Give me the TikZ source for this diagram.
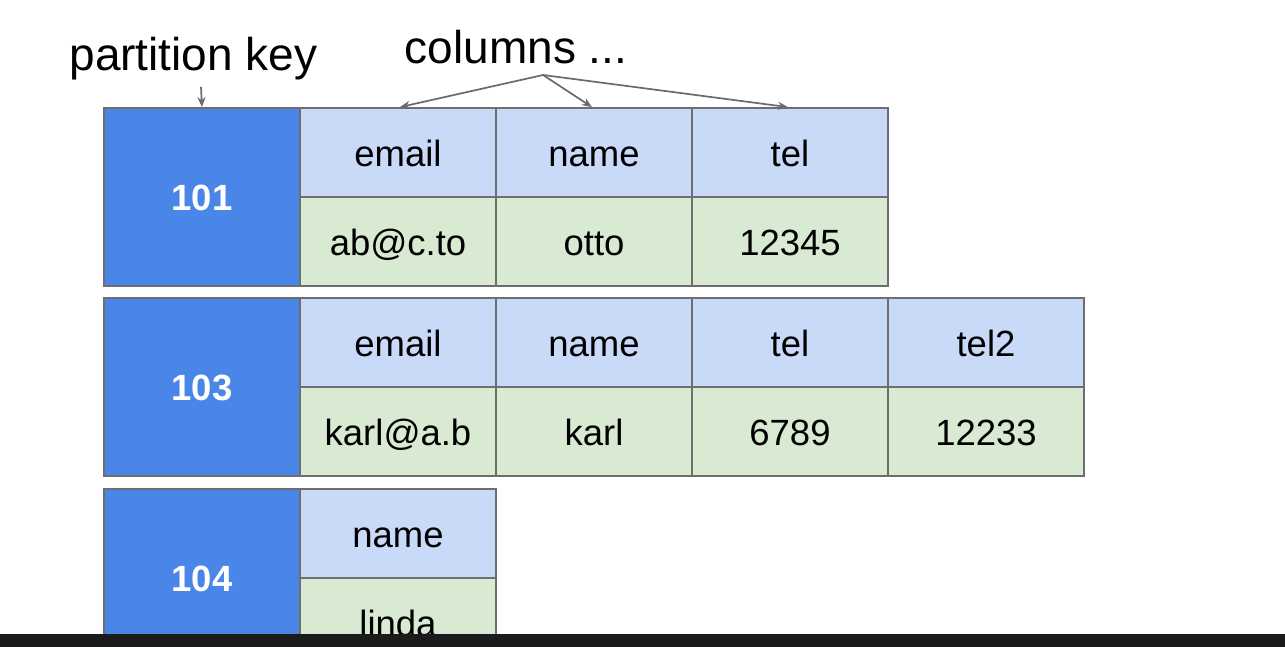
\documentclass[tikz,border=0pt]{standalone}
\usepackage{fontspec}
\setmainfont{Liberation Sans}
\usetikzlibrary{arrows.meta}
\definecolor{keyblue}{HTML}{4A86E8}
\definecolor{hdrblue}{HTML}{C9DAF8}
\definecolor{valgreen}{HTML}{D9EAD3}
\definecolor{edgec}{HTML}{6E6E6E}
\definecolor{arrc}{HTML}{6A6A6A}
\definecolor{barc}{HTML}{1B1B1B}
\begin{document}
\begin{tikzpicture}[x=1pt,y=-1pt,
 cellbase/.style={draw=edgec,line width=1.8pt,minimum width=196pt,inner sep=0pt,text height=27pt,text depth=0pt},
 keycell/.style={cellbase,fill=keyblue,text=white,font=\fontsize{36.5}{40}\selectfont\bfseries,minimum height=178pt},
 hdrcell/.style={cellbase,fill=hdrblue,font=\fontsize{36.5}{40}\selectfont,minimum height=89pt},
 valcell/.style={cellbase,fill=valgreen,font=\fontsize{36.5}{40}\selectfont,minimum height=89pt},
 lbl/.style={font=\fontsize{46}{50}\selectfont,inner sep=0pt,anchor=base},
 pointer/.style={draw=arrc,line width=1.7pt,-{Stealth[length=10pt,width=8pt]}}]
\useasboundingbox (0,0) rectangle (1285,646);
\fill[white] (-5,-5) rectangle (1290,660);
\begin{scope}
\clip (0,0) rectangle (1285,646);

% row 101
\node[keycell] (k1) at (202,197) {101};
\node[hdrcell] (h11) at (398,152.5) {email};
\node[hdrcell] (h12) at (594,152.5) {name};
\node[hdrcell] (h13) at (790,152.5) {tel};
\node[valcell] (v11) at (398,241.5) {ab@c.to};
\node[valcell] (v12) at (594,241.5) {otto};
\node[valcell] (v13) at (790,241.5) {12345};

% row 103
\node[keycell] (k2) at (202,387) {103};
\node[hdrcell] (h21) at (398,342.5) {email};
\node[hdrcell] (h22) at (594,342.5) {name};
\node[hdrcell] (h23) at (790,342.5) {tel};
\node[hdrcell] (h24) at (986,342.5) {tel2};
\node[valcell] (v21) at (398,431.5) {karl@a.b};
\node[valcell] (v22) at (594,431.5) {karl};
\node[valcell] (v23) at (790,431.5) {6789};
\node[valcell] (v24) at (986,431.5) {12233};

% row 104
\node[keycell] (k3) at (202,578) {104};
\node[hdrcell] (h31) at (398,533.5) {name};
\node[valcell] (v31) at (398,622.5) {linda};

% labels
\node[lbl] (pk) at (193.5,70) {partition key};
\node[lbl] (cols) at (516,63) {columns ...};
\coordinate (pkarr) at (201,87);
\coordinate (colarr) at (543,75);
\draw[pointer] (pkarr) -- (k1.north);
\draw[pointer] (colarr) -- ([xshift=2pt]h11.north);
\draw[pointer] (colarr) -- ([xshift=-2pt]h12.north);
\draw[pointer] (colarr) -- ([xshift=-2pt]h13.north);
\end{scope}

% bottom bar
\fill[barc] (-5,634) rectangle (1290,660);
\end{tikzpicture}
\end{document}
